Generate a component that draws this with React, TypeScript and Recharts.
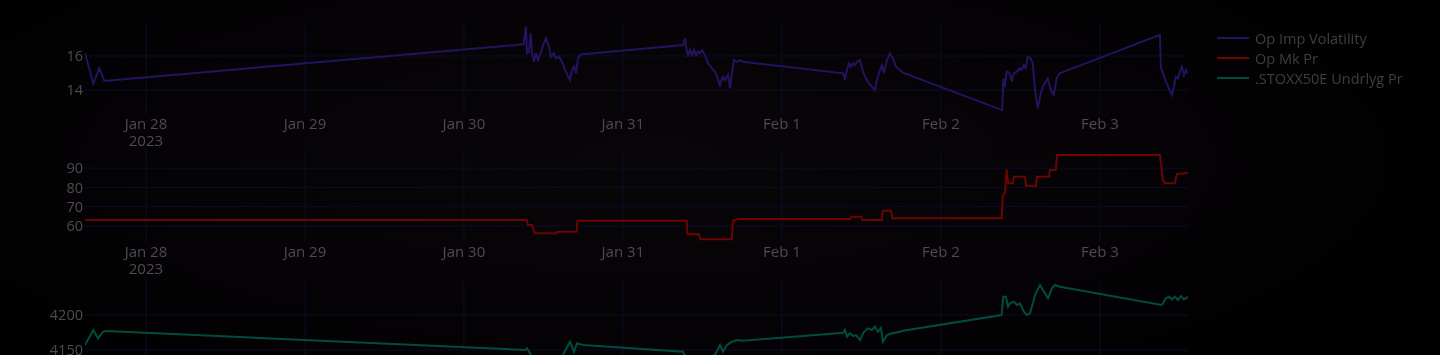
import { CartesianGrid, Line, LineChart, XAxis, YAxis } from "recharts";

// Time axis is in hours since 2023-01-27 00:00; sessions are joined by straight lines.
const X_DOMAIN: [number, number] = [14.8, 181.3];
const X_TICKS = [24, 48, 72, 96, 120, 144, 168];
const X_TICK_LABELS = ["Jan 28", "Jan 29", "Jan 30", "Jan 31", "Feb 1", "Feb 2", "Feb 3"];
const X_TICK_YEAR = "2023";

const SERIES_NAMES = ["Op Imp Volatility", "Op Mk Pr", ".STOXX50E Undrlyg Pr"];
const SERIES_COLORS = ["#22145f", "#6c0404", "#004c3d"];

// Op Imp Volatility
const volT = [
  14.8, 16.05, 16.96, 17.71, 18.08,
  81.0, 81.37, 81.52, 81.82, 82.08, 82.27, 82.57, 82.88, 83.18, 83.48, 84.04, 84.38, 84.84, 85.14, 85.59,
  85.89, 86.35, 86.8, 87.25, 88.01, 88.31, 88.61, 88.91, 89.22, 89.52, 89.97,
  105.11, 105.37, 105.62, 105.82, 106.12, 106.42, 106.72, 107.03, 107.33, 107.63, 107.93, 108.39, 108.84,
  109.44, 110.05, 110.65, 111.1, 111.4, 111.86, 112.16, 112.46, 112.76, 113.22, 113.67, 114.12,
  129.26, 129.52, 129.82, 130.12, 130.42, 130.72, 131.03, 131.33, 131.78, 132.23, 132.69, 133.14, 133.59,
  134.04, 134.35, 134.8, 135.1, 135.4, 135.86, 136.31, 136.76, 137.22, 137.82, 138.27,
  153.25, 153.43, 153.63, 153.93, 154.39, 154.69, 154.99, 155.44, 155.89, 156.2, 156.5, 156.8, 157.1,
  157.56, 157.86, 158.16, 158.61, 159.07, 159.37, 160.12, 160.58, 161.03, 161.48, 161.94,
  177.06, 177.21, 177.51, 177.96, 178.42, 178.87, 179.17, 179.47, 179.77, 180.08, 180.38, 180.68, 180.98, 181.29,
];
const volV = [
  16.16, 14.39, 15.28, 14.55, 14.55,
  16.69, 17.72, 16.16, 16.25, 17.34, 16.18, 15.66, 16.18, 15.76, 16.06, 16.75, 17.04, 16.55, 15.96, 16.16,
  15.86, 15.96, 15.66, 15.18, 14.59, 15.18, 15.37, 14.98, 15.86, 16.06, 16.1,
  16.65, 17.04, 16.35, 15.96, 16.35, 16.06, 16.35, 16.06, 16.25, 16.16, 16.35, 16.06, 15.57,
  15.28, 14.98, 14.29, 14.78, 14.59, 14.88, 14.1, 14.98, 15.76, 15.66, 15.76, 15.66,
  14.98, 14.59, 15.18, 15.57, 15.37, 15.57, 15.47, 15.66, 15.76, 15.08, 14.69, 14.39, 14.19,
  14.0, 14.59, 15.18, 15.47, 14.98, 15.76, 16.16, 15.86, 15.37, 15.18, 15.02,
  12.82, 14.69, 14.19, 15.08, 14.98, 14.49, 14.98, 15.08, 15.28, 15.18, 15.47, 15.28, 15.96,
  15.86, 15.57, 14.19, 12.92, 13.81, 14.19, 14.69, 14.0, 13.71, 14.69, 14.98,
  17.24, 15.28, 14.98, 14.49, 14.1, 13.71, 14.19, 14.78, 14.69, 15.08, 15.37, 14.88, 15.18, 14.98,
];

// Op Mk Pr
const mkT = [
  14.8, 81.47, 81.67, 82.27, 82.68, 86.0, 86.12, 89.02, 89.14,
  105.62, 105.74, 107.48, 107.71, 112.42, 112.61, 113.37,
  130.27, 130.5, 131.93, 132.16, 135.1, 135.25, 136.46, 136.69,
  153.17, 153.37, 153.67, 153.92, 154.16, 154.87, 155.02, 156.68, 156.84, 158.35, 158.5, 160.31, 160.46,
  161.37, 161.52, 177.06, 177.51, 177.81, 179.32, 179.62, 181.29,
];
const mkV = [
  63.1, 63.1, 60.5, 60.5, 56.2, 56.2, 57.0, 57.0, 62.7,
  62.7, 55.7, 55.7, 53.1, 53.1, 62.6, 63.6,
  63.6, 64.8, 64.8, 63.1, 63.1, 67.9, 67.9, 64.0,
  64.0, 76.1, 77.0, 89.4, 82.1, 82.1, 85.5, 85.5, 80.9, 80.9, 85.5, 85.5, 89.0,
  89.0, 96.8, 96.8, 83.8, 82.1, 82.1, 86.9, 87.6,
];

// .STOXX50E Undrlyg Pr
const stxT = [
  14.8, 16.05, 16.76, 17.52, 18.08,
  81.21, 81.52, 81.97, 82.57, 83.48, 84.69, 85.89, 86.95, 88.01, 88.61, 89.07, 89.97,
  105.06, 105.52, 106.88, 108.39, 109.9, 110.65, 111.1, 111.71, 112.46, 113.22, 114.12,
  129.26, 129.52, 129.82, 130.27, 130.72, 131.18, 131.78, 132.38, 132.99, 133.59, 134.04, 134.5, 134.95,
  135.25, 135.86, 136.61, 137.82, 138.27,
  153.17, 153.41, 153.82, 154.12, 154.42, 155.02, 155.48, 155.93, 156.53, 156.98, 157.44, 157.89, 158.2,
  158.95, 159.4, 160.16, 160.76, 161.21, 161.96,
  177.32, 177.51, 177.96, 178.42, 178.87, 179.32, 179.77, 180.23, 180.68, 181.29,
];
const stxV = [
  4157.1, 4178.6, 4166.7, 4176.1, 4177.1,
  4150.0, 4152.4, 4145.3, 4135.7, 4132.9, 4138.6, 4131.4, 4142.9, 4161.9, 4147.6, 4159.6, 4157.1,
  4147.6, 4138.6, 4132.9, 4135.7, 4142.9, 4157.1, 4147.6, 4157.1, 4161.9, 4164.3, 4163.3,
  4174.7, 4178.6, 4169.0, 4173.9, 4170.0, 4171.4, 4164.3, 4176.1, 4181.0, 4178.6, 4183.3, 4176.1, 4181.4,
  4161.9, 4171.4, 4173.9, 4176.1, 4177.6,
  4200.0, 4226.1, 4226.1, 4211.9, 4216.7, 4219.0, 4214.3, 4216.7, 4204.7, 4200.0, 4202.4, 4216.7, 4228.6,
  4242.9, 4235.7, 4223.9, 4238.1, 4242.9, 4240.4,
  4214.3, 4216.7, 4223.9, 4226.1, 4222.4, 4226.1, 4221.4, 4227.1, 4222.4, 4226.1,
];

const VOL_TICKS = [14, 16];
const MK_TICKS = [60, 70, 80, 90];
const STX_TICKS = [4150, 4200];

const toRows = (t: number[], v: number[]) => t.map((time, i) => ({ time, value: v[i] }));

const FONT = '"Open Sans", "DejaVu Sans", sans-serif';
const TICK_COLOR = "#4e4c4f";
const GRID_COLOR = "#0f0c29";
const FONT_SIZE = 14.5;
const PLOT_RIGHT_MARGIN = 252;

function DayTick(props: any) {
  const { x, y, payload, showLabels } = props;
  if (!showLabels) return <g />;
  const i = X_TICKS.indexOf(payload.value);
  return (
    <text x={x} y={y} textAnchor="middle" fill={TICK_COLOR} fontSize={15} fontFamily={FONT}>
      <tspan x={x} dy="0.71em">{X_TICK_LABELS[i]}</tspan>
      {i === 0 && <tspan x={x} dy={17}>{X_TICK_YEAR}</tspan>}
    </text>
  );
}

interface PanelProps {
  top: number;
  rows: { time: number; value: number }[];
  domain: [number, number];
  ticks: number[];
  color: string;
  name: string;
  showDates?: boolean;
}

function Panel({ top, rows, domain, ticks, color, name, showDates = true }: PanelProps) {
  return (
    <div style={{ position: "absolute", left: 0, top }}>
      <LineChart
        width={1440}
        height={150}
        data={rows}
        margin={{ top: 22, right: PLOT_RIGHT_MARGIN, bottom: 0, left: 0 }}
      >
        <CartesianGrid stroke={GRID_COLOR} strokeWidth={1} syncWithTicks />
        <XAxis
          dataKey="time"
          type="number"
          domain={X_DOMAIN}
          ticks={X_TICKS}
          allowDataOverflow
          height={37}
          tickSize={0}
          tickMargin={5}
          axisLine={false}
          tickLine={false}
          tick={<DayTick showLabels={showDates} />}
          interval={0}
        />
        <YAxis
          type="number"
          domain={domain}
          ticks={ticks}
          allowDataOverflow
          width={85}
          tickSize={0}
          tickMargin={2}
          axisLine={false}
          tickLine={false}
          tick={{ fill: TICK_COLOR, fontSize: FONT_SIZE, fontFamily: FONT }}
          interval={0}
        />
        <Line
          type="linear"
          dataKey="value"
          name={name}
          stroke={color}
          strokeWidth={2}
          dot={false}
          activeDot={false}
          isAnimationActive={false}
        />
      </LineChart>
    </div>
  );
}

export default function App() {
  return (
    <div
      style={{
        position: "fixed",
        left: 0,
        top: 0,
        width: 1440,
        height: 355,
        overflow: "hidden",
        fontFamily: FONT,
        background:
          "radial-gradient(ellipse 60% 80% at 45% 45%, #090609 0%, #050305 55%, #010001 100%)",
      }}
    >
      <Panel top={0} rows={toRows(volT, volV)} domain={[12.65, 18.0]} ticks={VOL_TICKS} color={SERIES_COLORS[0]} name={SERIES_NAMES[0]} />
      <Panel top={128} rows={toRows(mkT, mkV)} domain={[52.2, 99.4]} ticks={MK_TICKS} color={SERIES_COLORS[1]} name={SERIES_NAMES[1]} />
      <Panel top={259} rows={toRows(stxT, stxV)} domain={[4118.6, 4248.6]} ticks={STX_TICKS} color={SERIES_COLORS[2]} name={SERIES_NAMES[2]} showDates={false} />

      {/* legend, top right, outside the plot area */}
      <div style={{ position: "absolute", left: 1217, top: 28 }}>
        {SERIES_NAMES.map((name, i) => (
          <div key={name} style={{ display: "flex", alignItems: "center", height: 20 }}>
            <span style={{ width: 32, height: 2, background: SERIES_COLORS[i], marginRight: 6 }} />
            <span style={{ color: "#403e41", fontSize: FONT_SIZE, whiteSpace: "nowrap" }}>{name}</span>
          </div>
        ))}
      </div>
    </div>
  );
}
